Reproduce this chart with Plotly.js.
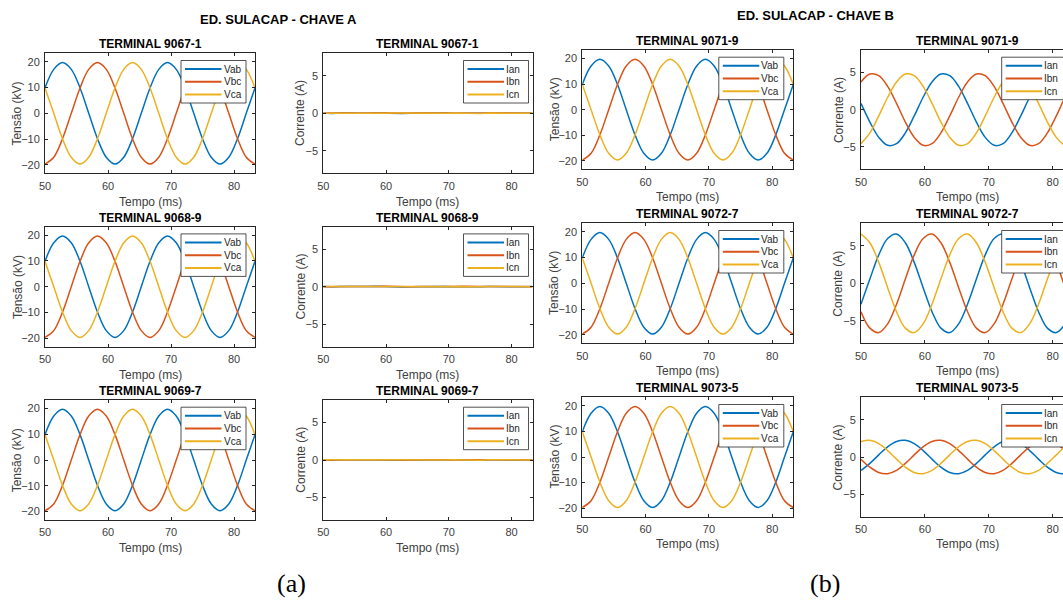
<!DOCTYPE html>
<html><head><meta charset="utf-8">
<script src="https://cdn.plot.ly/plotly-3.0.1.min.js"></script>
<style>html,body{margin:0;padding:0;background:#fff}#chart{width:1063px;height:600px}</style>
</head><body><div id="chart"></div>
<script>
// ---------- DATA ----------
const t = [50,51.39,52.78,54.17,55.56,56.94,58.33,59.72,61.11,62.5,63.89,65.28,66.67,68.06,69.44,70.83,72.22,73.61,75,76.39,77.78,79.17,80.56,81.94,83.33];

// Line voltages (kV) – read as identical on all six voltage panels
const vab = [9.85,17.06,19.7,17.06,9.85,0,-9.85,-17.06,-19.7,-17.06,-9.85,0,9.85,17.06,19.7,17.06,9.85,0,-9.85,-17.06,-19.7,-17.06,-9.85,0,9.85];
const vbc = [-19.7,-17.06,-9.85,0,9.85,17.06,19.7,17.06,9.85,0,-9.85,-17.06,-19.7,-17.06,-9.85,0,9.85,17.06,19.7,17.06,9.85,0,-9.85,-17.06,-19.7];
const vca = [9.85,0,-9.85,-17.06,-19.7,-17.06,-9.85,0,9.85,17.06,19.7,17.06,9.85,0,-9.85,-17.06,-19.7,-17.06,-9.85,0,9.85,17.06,19.7,17.06,9.85];

// Chave A currents (A) – essentially zero
const ianA = [0.03,-0.02,0.04,0.01,-0.03,0.02,0.05,-0.01,0.02,-0.04,0.01,0.03,-0.02,0.02,0.04,-0.01,0.03,-0.03,0.01,0.02,-0.02,0.04,0.00,-0.01,0.02];
const ibnA = [-0.01,0.03,0.00,0.04,0.02,-0.02,0.03,0.05,0.01,0.02,-0.01,0.04,0.03,-0.02,0.01,0.03,0.05,0.00,0.02,0.04,0.01,-0.01,0.03,0.02,0.00];
const icnA = [0.02,0.01,-0.02,0.03,0.00,0.04,-0.01,0.02,0.03,0.01,-0.02,0.02,0.04,0.01,-0.01,0.03,0.00,0.02,-0.02,0.03,0.01,0.02,0.04,-0.01,0.01];

// Terminal 9071-9 currents (A)
const ian9071 = [0.84,-1.66,-3.72,-4.78,-4.56,-3.12,-0.84,1.66,3.72,4.78,4.56,3.12,0.84,-1.66,-3.72,-4.78,-4.56,-3.12,-0.84,1.66,3.72,4.78,4.56,3.12,0.84];
const ibn9071 = [3.72,4.78,4.56,3.12,0.84,-1.66,-3.72,-4.78,-4.56,-3.12,-0.84,1.66,3.72,4.78,4.56,3.12,0.84,-1.66,-3.72,-4.78,-4.56,-3.12,-0.84,1.66,3.72];
const icn9071 = [-4.56,-3.12,-0.84,1.66,3.72,4.78,4.56,3.12,0.84,-1.66,-3.72,-4.78,-4.56,-3.12,-0.84,1.66,3.72,4.78,4.56,3.12,0.84,-1.66,-3.72,-4.78,-4.56];

// Terminal 9072-7 currents (A)
const ian9072 = [-2.79,0.58,3.79,5.98,6.57,5.41,2.79,-0.58,-3.79,-5.98,-6.57,-5.41,-2.79,0.58,3.79,5.98,6.57,5.41,2.79,-0.58,-3.79,-5.98,-6.57,-5.41,-2.79];
const ibn9072 = [-3.79,-5.98,-6.57,-5.41,-2.79,0.58,3.79,5.98,6.57,5.41,2.79,-0.58,-3.79,-5.98,-6.57,-5.41,-2.79,0.58,3.79,5.98,6.57,5.41,2.79,-0.58,-3.79];
const icn9072 = [6.57,5.41,2.79,-0.58,-3.79,-5.98,-6.57,-5.41,-2.79,0.58,3.79,5.98,6.57,5.41,2.79,-0.58,-3.79,-5.98,-6.57,-5.41,-2.79,0.58,3.79,5.98,6.57];

// Terminal 9073-5 currents (A)
const ian9073 = [-1.79,-0.86,0.29,1.37,2.08,2.23,1.79,0.86,-0.29,-1.37,-2.08,-2.23,-1.79,-0.86,0.29,1.37,2.08,2.23,1.79,0.86,-0.29,-1.37,-2.08,-2.23,-1.79];
const ibn9073 = [-0.29,-1.37,-2.08,-2.23,-1.79,-0.86,0.29,1.37,2.08,2.23,1.79,0.86,-0.29,-1.37,-2.08,-2.23,-1.79,-0.86,0.29,1.37,2.08,2.23,1.79,0.86,-0.29];
const icn9073 = [2.08,2.23,1.79,0.86,-0.29,-1.37,-2.08,-2.23,-1.79,-0.86,0.29,1.37,2.08,2.23,1.79,0.86,-0.29,-1.37,-2.08,-2.23,-1.79,-0.86,0.29,1.37,2.08];

const vNames = ['Vab','Vbc','Vca'];
const iNames = ['Ian','Ibn','Icn'];
const xTicks = [50,60,70,80];
const vTicks = [-20,-10,0,10,20];
const iTicks = [-5,0,5];

// ---------- LAYOUT ----------
const W = 1063, H = 600;
const P = x => x / W, Q = y => 1 - y / H;
const COLORS = ['#0072BD','#D95319','#EDB120'];
const FONT = 'Liberation Sans, Arial, Helvetica, sans-serif';
const AX = '#262626', TXT = '#404040';

const colA1 = [45,255], colA2 = [323.3,532.5], colB1 = [582.3,793.3], colB2 = [861,1074];
const rowsA = [[53.3,173.3],[226.7,346.7],[400,520]];
const rowsB = [[50,169.3],[223.3,343.3],[397.3,516.7]];

const panels = [
  {title:'TERMINAL 9067-1', col:colA1, row:rowsA[0], kind:'V', ys:[vab,vbc,vca], legR:74, xt:28.4},
  {title:'TERMINAL 9067-1', col:colA2, row:rowsA[0], kind:'I', ys:[ianA,ibnA,icnA], legR:69, xt:28.4},
  {title:'TERMINAL 9068-9', col:colA1, row:rowsA[1], kind:'V', ys:[vab,vbc,vca], legR:74, xt:28.4},
  {title:'TERMINAL 9068-9', col:colA2, row:rowsA[1], kind:'I', ys:[ianA,ibnA,icnA], legR:69, xt:28.4},
  {title:'TERMINAL 9069-7', col:colA1, row:rowsA[2], kind:'V', ys:[vab,vbc,vca], legR:74, xt:28.4},
  {title:'TERMINAL 9069-7', col:colA2, row:rowsA[2], kind:'I', ys:[ianA,ibnA,icnA], legR:69, xt:28.4},
  {title:'TERMINAL 9071-9', col:colB1, row:rowsB[0], kind:'V', ys:[vab,vbc,vca], legR:74.5, xt:27.4},
  {title:'TERMINAL 9071-9', col:colB2, row:rowsB[0], kind:'I', ys:[ian9071,ibn9071,icn9071], legR:72.3, cut:true, xt:27.4},
  {title:'TERMINAL 9072-7', col:colB1, row:rowsB[1], kind:'V', ys:[vab,vbc,vca], legR:74.5, xt:27.4},
  {title:'TERMINAL 9072-7', col:colB2, row:rowsB[1], kind:'I', ys:[ian9072,ibn9072,icn9072], legR:72.3, cut:true, xt:27.4},
  {title:'TERMINAL 9073-5', col:colB1, row:rowsB[2], kind:'V', ys:[vab,vbc,vca], legR:74.5, xt:27.4},
  {title:'TERMINAL 9073-5', col:colB2, row:rowsB[2], kind:'I', ys:[ian9073,ibn9073,icn9073], legR:72.3, cut:true, xt:27.4}
];

const data = [], shapes = [], annotations = [];
const layout = {
  width: W, height: H, margin:{l:0,r:0,t:0,b:0,autoexpand:false},
  paper_bgcolor:'#fff', plot_bgcolor:'#fff', showlegend:false,
  font:{family:FONT, color:TXT}
};

panels.forEach((p, k) => {
  const n = k + 1;
  const xa = 'xaxis' + (n === 1 ? '' : n), ya = 'yaxis' + (n === 1 ? '' : n);
  const xr = 'x' + (n === 1 ? '' : n), yr = 'y' + (n === 1 ? '' : n);
  const isV = p.kind === 'V';
  const names = isV ? vNames : iNames;
  const right = p.cut ? W : p.col[1];
  const pxPerMs = (p.col[1] - p.col[0]) / 33.33;
  const xMax = 50 + (right - p.col[0]) / pxPerMs;

  p.ys.forEach((y, i) => {
    data.push({
      type:'scatter', mode:'lines', x:t, y:y, xaxis:xr, yaxis:yr, name:names[i],
      line:{color:COLORS[i], width:1.5, shape: (isV || p.cut) ? 'spline' : 'linear', smoothing:1},
      hoverinfo:'skip'
    });
  });

  layout[xa] = {
    domain:[P(p.col[0]), P(right)], range:[50, xMax], anchor:yr,
    showline:true, mirror:'ticks', linecolor:AX, linewidth:1,
    ticks:'inside', ticklen:3, tickcolor:AX, tickwidth:1,
    tickvals:xTicks, showgrid:false, zeroline:false,
    tickfont:{family:FONT, size:11, color:TXT}, ticklabelstandoff:2,
    fixedrange:true
  };
  layout[ya] = {
    domain:[Q(p.row[1]), Q(p.row[0])], range: isV ? [-23.3, 23.3] : [-8, 8], anchor:xr,
    showline:true, mirror: p.cut ? false : 'ticks', linecolor:AX, linewidth:1,
    ticks:'inside', ticklen:3, tickcolor:AX, tickwidth:1,
    tickvals: isV ? vTicks : iTicks, showgrid:false, zeroline:false,
    tickfont:{family:FONT, size:11, color:TXT}, ticklabelstandoff:2,
    fixedrange:true
  };

  // x-axis title (placed like MATLAB's xlabel)
  annotations.push({
    xref:'paper', yref:'paper', x:P((p.col[0] + p.col[1]) / 2), y:Q(p.row[1] + p.xt),
    xanchor:'center', yanchor:'middle', showarrow:false,
    text:'Tempo (ms)', font:{family:FONT, size:12, color:TXT}
  });
  // y-axis title (placed like MATLAB's ylabel)
  annotations.push({
    xref:'paper', yref:'paper', x:P(p.col[0] - (isV ? 27.7 : 22.6)), y:Q((p.row[0] + p.row[1]) / 2),
    xanchor:'center', yanchor:'middle', textangle:-90, showarrow:false,
    text: isV ? 'Tensão (kV)' : 'Corrente (A)', font:{family:FONT, size:12, color:TXT}
  });

  // subplot title
  annotations.push({
    xref:'paper', yref:'paper', x:P((p.col[0] + p.col[1]) / 2), y:Q(p.row[0] - 9),
    xanchor:'center', yanchor:'middle', showarrow:false,
    text:'<b>' + p.title + '</b>', font:{family:FONT, size:12, color:'#000'}
  });

  // legend box (MATLAB-style)
  const bL = p.col[1] - p.legR, bT = p.row[0] + 7.2, bW = 65, bH = 42.5;
  shapes.push({type:'rect', xref:'paper', yref:'paper', layer:'above',
    x0:P(bL), x1:P(bL + bW), y0:Q(bT + bH), y1:Q(bT),
    line:{color:AX, width:0.8}, fillcolor:'#fff'});
  names.forEach((nm, i) => {
    const yy = bT + 8.5 + 12.75 * i;
    shapes.push({type:'line', xref:'paper', yref:'paper', layer:'above',
      x0:P(bL + 4), x1:P(bL + 40.5), y0:Q(yy), y1:Q(yy),
      line:{color:COLORS[i], width:2}});
    annotations.push({xref:'paper', yref:'paper', x:P(bL + 40.5), y:Q(yy),
      xanchor:'left', yanchor:'middle', showarrow:false, text:nm,
      font:{family:FONT, size:10, color:'#262626'}});
  });
});

// group titles and labels
annotations.push({xref:'paper', yref:'paper', x:P(278.3), y:Q(20), xanchor:'center', yanchor:'middle',
  showarrow:false, text:'<b>ED. SULACAP - CHAVE A</b>', font:{family:FONT, size:13, color:'#000'}});
annotations.push({xref:'paper', yref:'paper', x:P(815.8), y:Q(15), xanchor:'center', yanchor:'middle',
  showarrow:false, text:'<b>ED. SULACAP - CHAVE B</b>', font:{family:FONT, size:13, color:'#000'}});
annotations.push({xref:'paper', yref:'paper', x:P(291), y:Q(583), xanchor:'center', yanchor:'middle',
  showarrow:false, text:'(a)', font:{family:'Liberation Serif, Times New Roman, serif', size:26, color:'#000'}});
annotations.push({xref:'paper', yref:'paper', x:P(825), y:Q(583), xanchor:'center', yanchor:'middle',
  showarrow:false, text:'(b)', font:{family:'Liberation Serif, Times New Roman, serif', size:26, color:'#000'}});

layout.shapes = shapes;
layout.annotations = annotations;

Plotly.newPlot('chart', data, layout, {staticPlot:true, displayModeBar:false});
</script></body></html>
